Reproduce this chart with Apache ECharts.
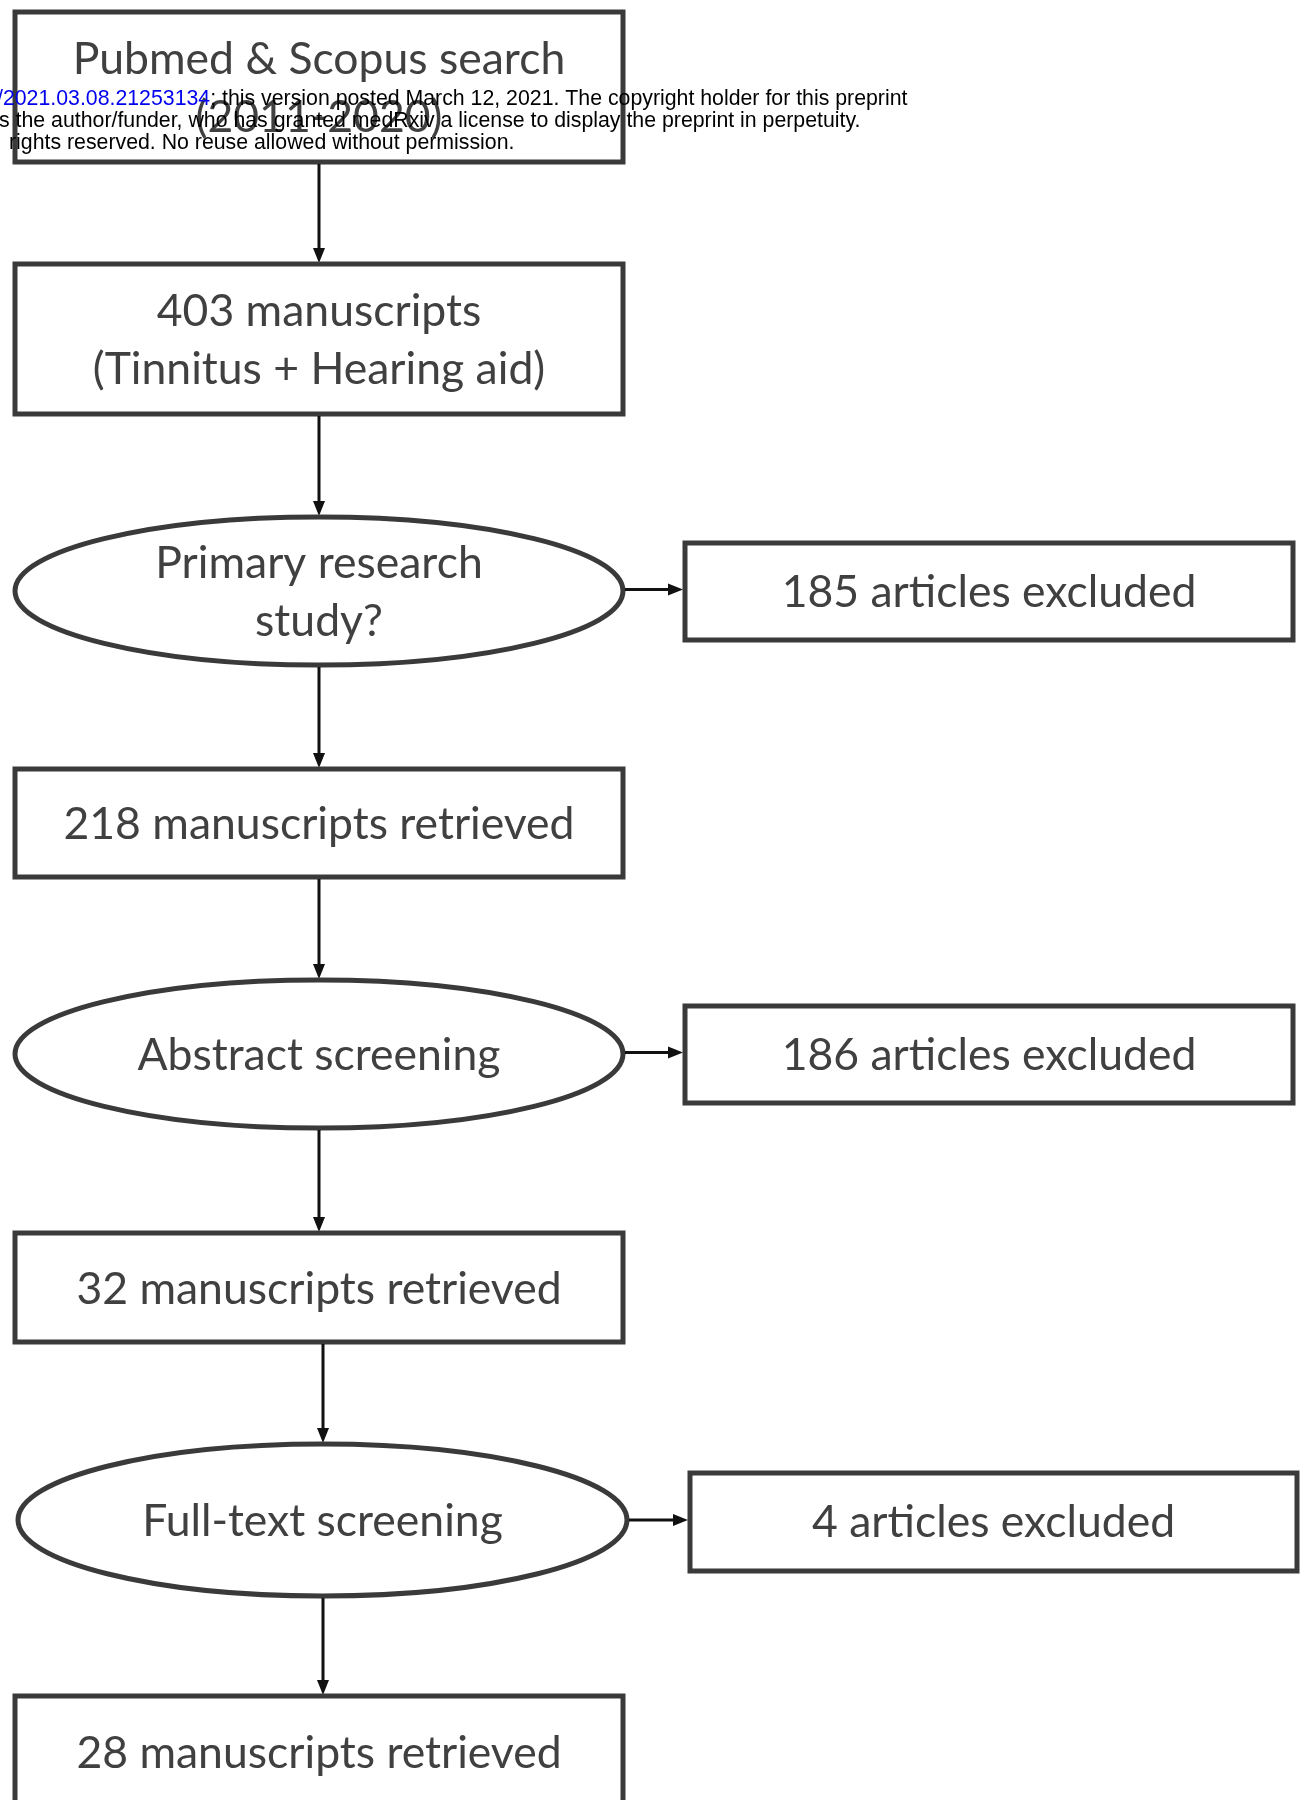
<!DOCTYPE html>
<html>
<head>
<meta charset="utf-8">
<script src="https://cdn.jsdelivr.net/npm/echarts@6/dist/echarts.min.js"></script>
<style>
  html, body { margin: 0; padding: 0; background: #ffffff; }
  #chart { width: 1303px; height: 1800px; }
</style>
</head>
<body>
<div id="chart"></div>
<script>
// Flow content
const stepLabels = [
  'Pubmed & Scopus search\n(2011-2020)',
  '403 manuscripts\n(Tinnitus + Hearing aid)',
  'Primary research\nstudy?',
  '218 manuscripts retrieved',
  'Abstract screening',
  '32 manuscripts retrieved',
  'Full-text screening',
  '28 manuscripts retrieved'
]
const stepShapes = ['box', 'box', 'ellipse', 'box', 'ellipse', 'box', 'ellipse', 'box']
const excludedLabels = ['185 articles excluded', '186 articles excluded', '4 articles excluded']
const excludedFrom = [2, 4, 6]

// medRxiv stamp (left part is cut off in the original)
const stampLink = '/2021.03.08.21253134'
const stampLines = [
  '; this version posted March 12, 2021. The copyright holder for this preprint',
  's the author/funder, who has granted medRxiv a license to display the preprint in perpetuity.',
  'rights reserved. No reuse allowed without permission.'
]

// Layout (pixels)
const stepX = [[15, 623], [15, 623], [15, 623], [15, 623], [15, 623], [15, 623], [18, 627], [15, 623]]
const stepY = [[12, 162], [264, 414], [517, 665], [769, 877], [980, 1128], [1233, 1342], [1444, 1596], [1696, 1808]]
const exclX = [[685, 1293], [685, 1293], [690, 1297]]
const exclY = [[543, 640], [1006, 1103], [1473, 1571]]
const arrowX = [319, 319, 319, 319, 319, 323, 323]

const FONT = '44.5px Lato, "Open Sans", sans-serif'
const STAMP_FONT = '21.3px "Liberation Sans", Arial, sans-serif'
const TEXT_COLOR = '#404040'
const SHAPE_COLOR = '#3a3a3a'
const ARROW_COLOR = '#111111'

const chart = echarts.init(document.getElementById('chart'))

function arrowHead(api, x, y, dir) {
  // tip at (x, y)
  const p = api.coord([x, y])
  let pts
  if (dir === 'down') pts = [[p[0] - 6, p[1] - 15], [p[0] + 6, p[1] - 15], [p[0], p[1]]]
  else pts = [[p[0] - 15, p[1] - 6], [p[0] - 15, p[1] + 6], [p[0], p[1]]]
  return { type: 'polygon', shape: { points: pts }, style: { fill: ARROW_COLOR } }
}

function renderItem(params, api) {
  const kind = api.value(0)
  const i = api.value(1)
  const children = []
  if (kind === 0) {
    const [x0, x1] = stepX[i]
    const [y0, y1] = stepY[i]
    const a = api.coord([x0, y0])
    const b = api.coord([x1, y1])
    const cx = (a[0] + b[0]) / 2
    const cy = (a[1] + b[1]) / 2
    if (stepShapes[i] === 'ellipse') {
      children.push({
        type: 'ellipse',
        shape: { cx: cx, cy: cy, rx: (b[0] - a[0]) / 2, ry: (b[1] - a[1]) / 2 },
        style: { fill: '#fff', stroke: SHAPE_COLOR, lineWidth: 5 }
      })
    } else {
      children.push({
        type: 'rect',
        shape: { x: a[0], y: a[1], width: b[0] - a[0], height: b[1] - a[1] },
        style: { fill: '#fff', stroke: SHAPE_COLOR, lineWidth: 5 }
      })
    }
    children.push({
      type: 'text',
      style: {
        text: stepLabels[i], x: cx, y: cy + 2, font: FONT, fill: TEXT_COLOR,
        align: 'center', verticalAlign: 'middle', lineHeight: 58
      }
    })
    if (i < stepLabels.length - 1) {
      const s = api.coord([arrowX[i], y1])
      const e = api.coord([arrowX[i], stepY[i + 1][0]])
      children.push({
        type: 'line',
        shape: { x1: s[0], y1: s[1] + 2, x2: e[0], y2: e[1] - 12 },
        style: { stroke: ARROW_COLOR, lineWidth: 3 }
      })
      children.push(arrowHead(api, arrowX[i], stepY[i + 1][0] - 1, 'down'))
    }
  } else {
    const [x0, x1] = exclX[i]
    const [y0, y1] = exclY[i]
    const a = api.coord([x0, y0])
    const b = api.coord([x1, y1])
    const cy = (a[1] + b[1]) / 2
    children.push({
      type: 'rect',
      shape: { x: a[0], y: a[1], width: b[0] - a[0], height: b[1] - a[1] },
      style: { fill: '#fff', stroke: SHAPE_COLOR, lineWidth: 5 }
    })
    children.push({
      type: 'text',
      style: {
        text: excludedLabels[i], x: (a[0] + b[0]) / 2, y: cy + 1, font: FONT, fill: TEXT_COLOR,
        align: 'center', verticalAlign: 'middle'
      }
    })
    const from = excludedFrom[i]
    const s = api.coord([stepX[from][1], cy])
    children.push({
      type: 'line',
      shape: { x1: s[0] + 2, y1: cy - 2, x2: a[0] - 12, y2: cy - 2 },
      style: { stroke: ARROW_COLOR, lineWidth: 3 }
    })
    children.push(arrowHead(api, x0 - 2, cy - 2, 'right'))
  }
  return { type: 'group', children: children }
}

const data = stepLabels.map((_, i) => [0, i]).concat(excludedLabels.map((_, i) => [1, i]))

const option = {
  backgroundColor: '#ffffff',
  animation: false,
  grid: { left: 0, right: 0, top: 0, bottom: 0 },
  xAxis: { type: 'value', min: 0, max: 1303, show: false },
  yAxis: { type: 'value', min: 0, max: 1800, inverse: true, show: false },
  series: [{
    type: 'custom',
    renderItem: renderItem,
    data: data,
    clip: false,
    silent: true
  }],
  graphic: stampLines.map((line, k) => ({
    type: 'text',
    z: 100,
    left: k === 0 ? -3 : (k === 1 ? -1 : 9),
    top: 89 + k * 22,
    style: k === 0 ? {
      text: '{link|' + stampLink + '}{txt|' + line + '}',
      rich: {
        link: { fill: '#0000ee', font: STAMP_FONT },
        txt: { fill: '#000', font: STAMP_FONT }
      }
    } : {
      text: line, fill: '#000', font: STAMP_FONT
    }
  }))
}

chart.setOption(option)
</script>
</body>
</html>
